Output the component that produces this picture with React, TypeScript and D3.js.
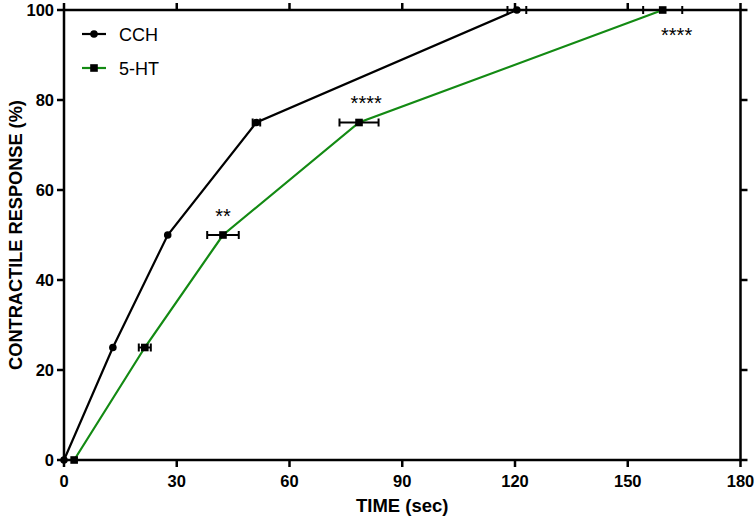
import React from "react";
import * as d3 from "d3";

// time (sec) to reach each % of contractile response
const responseLevels = [0, 25, 50, 75, 100];
const cchTime = [0, 13, 27.6, 51.2, 120.5];
const cchErr = [0, 0, 0, 1, 2.5];
const htTime = [2.7, 21.5, 42.3, 78.5, 159.3];
const htErr = [0, 1.6, 4.2, 5.2, 5.2];

const xTicks = [0, 30, 60, 90, 120, 150, 180];
const yTicks = [0, 20, 40, 60, 80, 100];

// significance marks: time, response level, text, above / below the level
const stars = [
  { x: 42.3, y: 50, label: "**", below: false },
  { x: 80.4, y: 75, label: "****", below: false },
  { x: 163, y: 100, label: "****", below: true },
];

const W = 756;
const H = 518;
const margin = { left: 64, right: 15.5, top: 10, bottom: 58 };
const GREEN = "#138a13";
const FONT = "Liberation Sans, Arial, sans-serif";

const App: React.FC = () => {
  const x = d3.scaleLinear().domain([0, 180]).range([margin.left, W - margin.right]);
  const y = d3.scaleLinear().domain([0, 100]).range([H - margin.bottom, margin.top]);

  const line = d3
    .line<[number, number]>()
    .x((d) => x(d[0]))
    .y((d) => y(d[1]));

  const cch: [number, number][] = cchTime.map((t, i) => [t, responseLevels[i]]);
  const ht: [number, number][] = htTime.map((t, i) => [t, responseLevels[i]]);

  const x0 = x(0);
  const x1 = x(180);
  const y0 = y(0);
  const y1 = y(100);

  const errBars = (pts: [number, number][], errs: number[], color: string) =>
    pts.map((p, i) =>
      errs[i] > 0 ? (
        <g key={i} stroke={color} strokeWidth={2}>
          <line x1={x(p[0] - errs[i])} x2={x(p[0] + errs[i])} y1={y(p[1])} y2={y(p[1])} />
          <line x1={x(p[0] - errs[i])} x2={x(p[0] - errs[i])} y1={y(p[1]) - 4} y2={y(p[1]) + 4} />
          <line x1={x(p[0] + errs[i])} x2={x(p[0] + errs[i])} y1={y(p[1]) - 4} y2={y(p[1]) + 4} />
        </g>
      ) : null
    );

  return (
    <svg
      width={W}
      height={H}
      style={{ position: "absolute", left: 0, top: 0, background: "#fff" }}
      fontFamily={FONT}
    >
      {/* frame */}
      <rect x={x0} y={y1} width={x1 - x0} height={y0 - y1} fill="none" stroke="#000" strokeWidth={2.5} />
      {xTicks.map((t) => (
        <g key={"x" + t}>
          <line x1={x(t)} x2={x(t)} y1={y0} y2={y0 + 7} stroke="#000" strokeWidth={2.5} />
          <line x1={x(t)} x2={x(t)} y1={y1} y2={y1 - 7} stroke="#000" strokeWidth={2.5} />
          <text x={x(t)} y={y0 + 27} textAnchor="middle" fontSize={16.5} fontWeight="bold">
            {t}
          </text>
        </g>
      ))}
      {yTicks.map((t) => (
        <g key={"y" + t}>
          <line x1={x0 - 7} x2={x0} y1={y(t)} y2={y(t)} stroke="#000" strokeWidth={2.5} />
          <line x1={x1} x2={x1 + 7} y1={y(t)} y2={y(t)} stroke="#000" strokeWidth={2.5} />
          <text x={x0 - 10} y={y(t) + 6} textAnchor="end" fontSize={16.5} fontWeight="bold">
            {t}
          </text>
        </g>
      ))}
      <text x={(x0 + x1) / 2} y={H - 6} textAnchor="middle" fontSize={18.5} fontWeight="bold">
        TIME (sec)
      </text>
      <text
        transform={`translate(22,${(y0 + y1) / 2}) rotate(-90)`}
        textAnchor="middle"
        fontSize={18.2}
        fontWeight="bold"
      >
        CONTRACTILE RESPONSE (%)
      </text>

      {/* series */}
      <path d={line(cch) ?? ""} fill="none" stroke="#000" strokeWidth={2.2} />
      <path d={line(ht) ?? ""} fill="none" stroke={GREEN} strokeWidth={2.2} />
      {errBars(cch, cchErr, "#000")}
      {errBars(ht, htErr, "#000")}
      {cch.map((p, i) => (
        <circle key={"c" + i} cx={x(p[0])} cy={y(p[1])} r={3.8} fill="#000" />
      ))}
      {ht.map((p, i) => (
        <rect key={"h" + i} x={x(p[0]) - 3.8} y={y(p[1]) - 3.8} width={7.6} height={7.6} fill="#000" />
      ))}

      {stars.map((s, i) => (
        <text
          key={"s" + i}
          x={x(s.x)}
          y={s.below ? y(s.y) + 31.5 : y(s.y) - 12.5}
          textAnchor="middle"
          fontSize={20}
        >
          {s.label}
        </text>
      ))}

      {/* legend */}
      <g>
        <line x1={82} x2={106} y1={34} y2={34} stroke="#000" strokeWidth={2.2} />
        <circle cx={94} cy={34} r={3.8} fill="#000" />
        <text x={119} y={41} fontSize={18}>
          CCH
        </text>
        <line x1={82} x2={106} y1={68} y2={68} stroke={GREEN} strokeWidth={2.2} />
        <rect x={90.2} y={64.2} width={7.6} height={7.6} fill="#000" />
        <text x={119} y={75} fontSize={18}>
          5-HT
        </text>
      </g>
    </svg>
  );
};

export default App;
